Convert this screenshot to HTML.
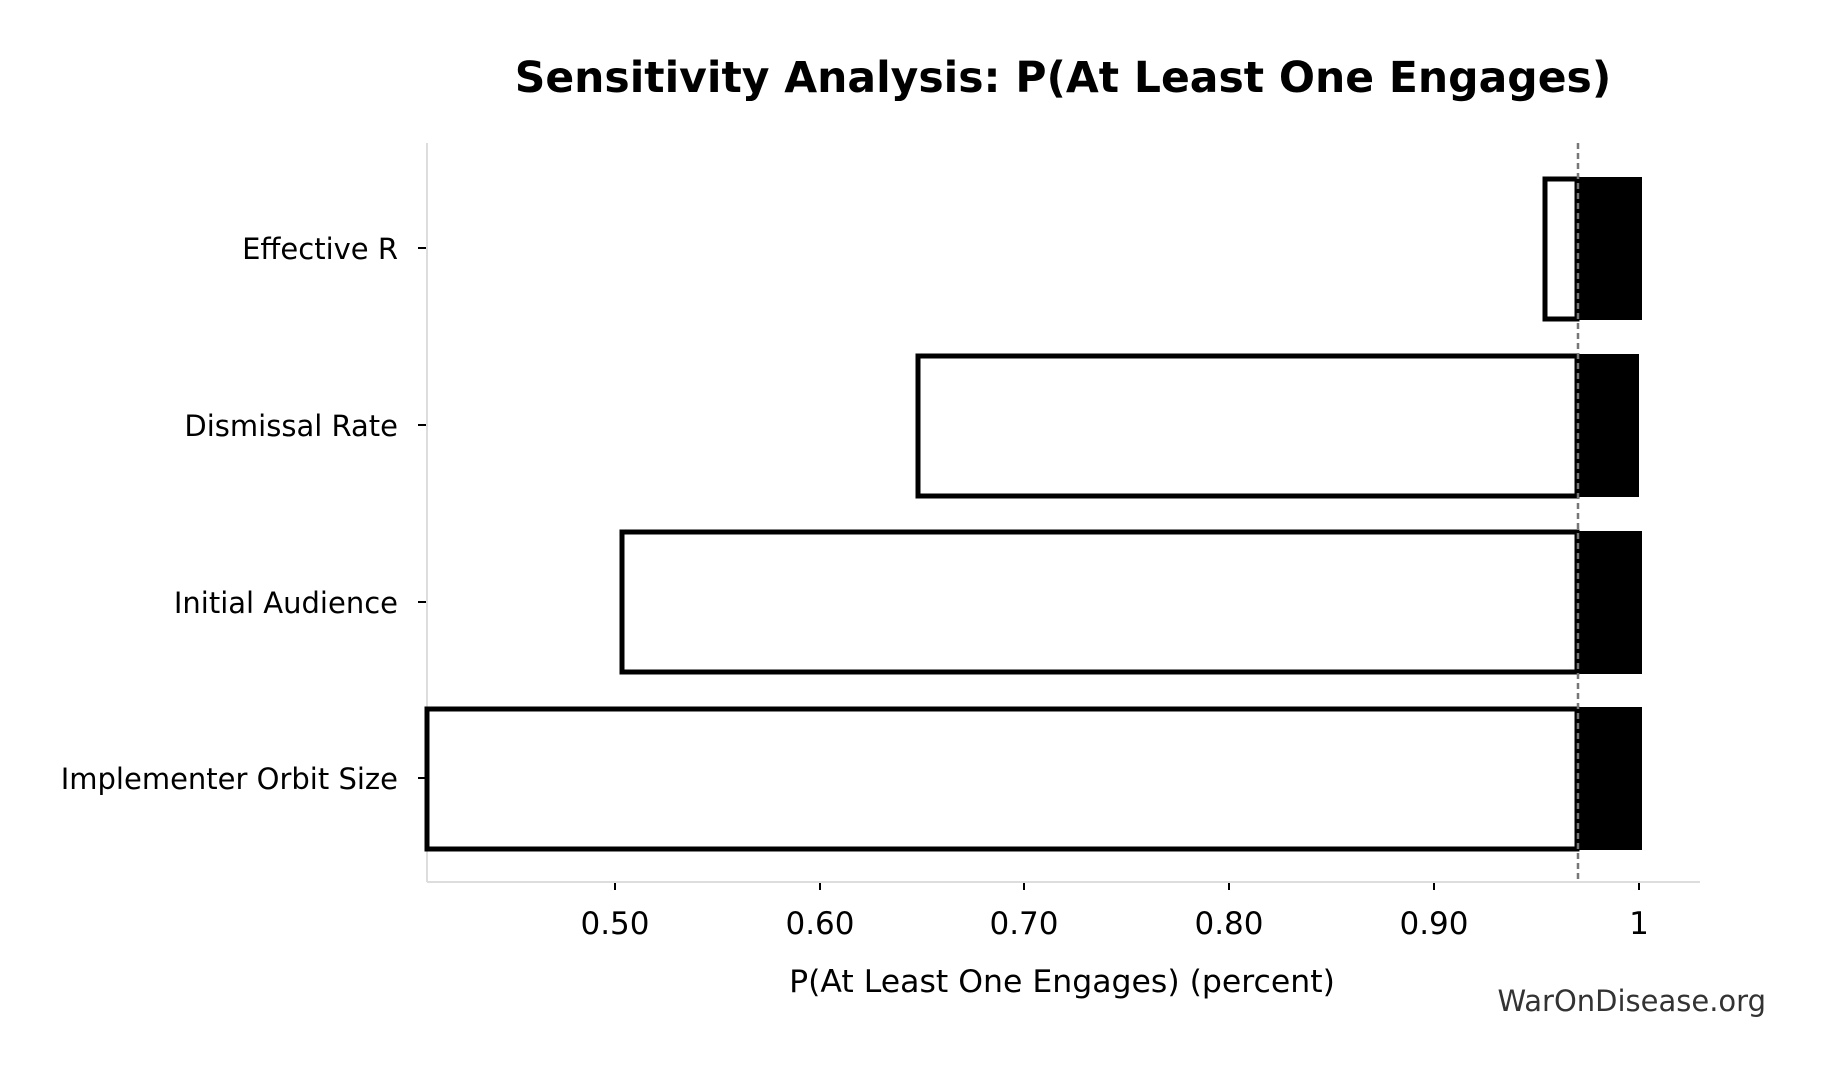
<!DOCTYPE html><html><head><meta charset="utf-8"><style>body{margin:0;background:#fff}</style></head><body>
<svg width="1826" height="1075" xmlns="http://www.w3.org/2000/svg" font-family="'DejaVu Sans','Liberation Sans',sans-serif">
<rect width="1826" height="1075" fill="#fff"/>
<text x="1063" y="92" font-size="42.5" font-weight="bold" text-anchor="middle">Sensitivity Analysis: P(At Least One Engages)</text>
<line x1="427" y1="143" x2="427" y2="882" stroke="#ddd" stroke-width="2"/>
<line x1="427" y1="882" x2="1700" y2="882" stroke="#ddd" stroke-width="2"/>
<g stroke="#000" stroke-width="5">
<rect x="1545" y="179" width="32" height="140" fill="#fff"/>
<rect x="918" y="356" width="659" height="140" fill="#fff"/>
<rect x="622" y="532" width="955" height="140" fill="#fff"/>
<rect x="427" y="709" width="1150" height="140" fill="#fff"/>
</g>
<g fill="#000">
<rect x="1577" y="177" width="65" height="143"/>
<rect x="1577" y="354" width="62" height="143"/>
<rect x="1577" y="531" width="65" height="143"/>
<rect x="1577" y="707" width="65" height="143"/>
</g>
<line x1="1578" y1="143" x2="1578" y2="882" stroke="#777" stroke-width="2.5" stroke-dasharray="6,4"/>
<g stroke="#000" stroke-width="2">
<line x1="418" y1="248" x2="426" y2="248"/><line x1="418" y1="425" x2="426" y2="425"/>
<line x1="418" y1="602" x2="426" y2="602"/><line x1="418" y1="778" x2="426" y2="778"/>
<line x1="615" y1="883" x2="615" y2="890"/><line x1="820" y1="883" x2="820" y2="890"/>
<line x1="1024" y1="883" x2="1024" y2="890"/><line x1="1229" y1="883" x2="1229" y2="890"/>
<line x1="1434" y1="883" x2="1434" y2="890"/><line x1="1639" y1="883" x2="1639" y2="890"/>
</g>
<g font-size="29" text-anchor="end">
<text x="398" y="259">Effective R</text>
<text x="398" y="436">Dismissal Rate</text>
<text x="398" y="613">Initial Audience</text>
<text x="398" y="789">Implementer Orbit Size</text>
</g>
<g font-size="31" text-anchor="middle">
<text x="615" y="934">0.50</text><text x="820" y="934">0.60</text><text x="1024" y="934">0.70</text>
<text x="1229" y="934">0.80</text><text x="1434" y="934">0.90</text><text x="1639" y="934">1</text>
<text x="1062" y="992" font-size="31.5">P(At Least One Engages) (percent)</text>
</g>
<text x="1766" y="1011" font-size="29" text-anchor="end" fill="#333">WarOnDisease.org</text>
</svg></body></html>
